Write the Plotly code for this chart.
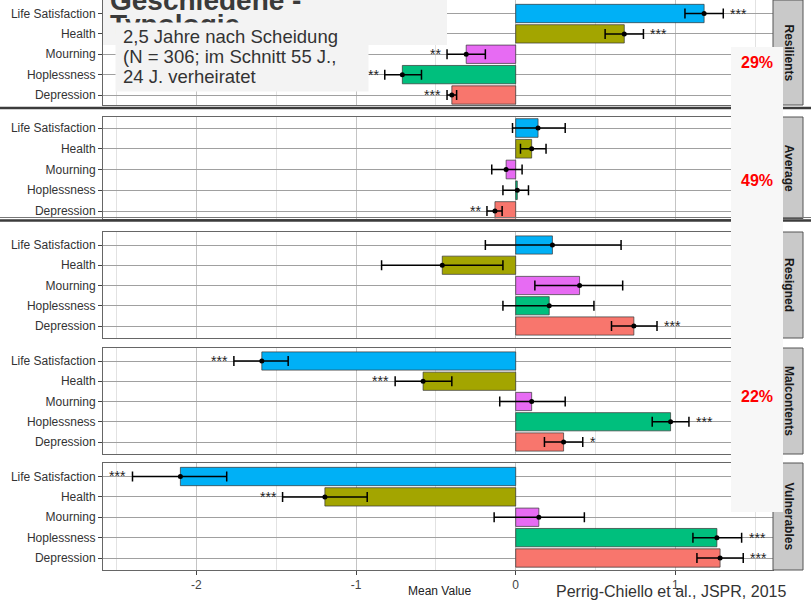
import plotly.graph_objects as go

W, H = 811, 600

# ---------------- data ----------------
categories = ["Life Satisfaction", "Health", "Mourning", "Hoplessness", "Depression"]
cat_colors = ["#00B0F6", "#A3A500", "#E76BF3", "#00BF7D", "#F8766D"]
groups = ["Resilients", "Average", "Resigned", "Malcontents", "Vulnerables"]

resilients_mean = [1.18, 0.68, -0.31, -0.71, -0.40]
resilients_lo = [1.06, 0.56, -0.43, -0.82, -0.43]
resilients_hi = [1.30, 0.80, -0.19, -0.59, -0.37]
resilients_sig = ["***", "***", "**", "**", "***"]

average_mean = [0.14, 0.10, -0.06, 0.01, -0.13]
average_lo = [-0.02, 0.03, -0.15, -0.08, -0.18]
average_hi = [0.31, 0.19, 0.04, 0.08, -0.085]
average_sig = ["", "", "", "", "**"]

resigned_mean = [0.23, -0.46, 0.40, 0.21, 0.74]
resigned_lo = [-0.19, -0.84, 0.12, -0.08, 0.60]
resigned_hi = [0.66, -0.08, 0.67, 0.49, 0.885]
resigned_sig = ["", "", "", "", "***"]

malcontents_mean = [-1.59, -0.58, 0.10, 0.97, 0.30]
malcontents_lo = [-1.765, -0.755, -0.10, 0.855, 0.18]
malcontents_hi = [-1.425, -0.40, 0.31, 1.085, 0.42]
malcontents_sig = ["***", "***", "", "***", "*"]

vulnerables_mean = [-2.10, -1.195, 0.145, 1.26, 1.28]
vulnerables_lo = [-2.40, -1.46, -0.135, 1.11, 1.135]
vulnerables_hi = [-1.81, -0.93, 0.43, 1.415, 1.425]
vulnerables_sig = ["***", "***", "", "***", "***"]

group_share = ["29%", "49%", "", "22%", ""]

x_ticks = [-2, -1, 0, 1]

title_lines = ["Geschiedene -", "Typologie"]
subtitle_lines = ["2,5 Jahre nach Scheidung", "(N = 306; im Schnitt 55 J.,", "24 J. verheiratet"]
source_text = "Perrig-Chiello et al., JSPR, 2015"
x_title = "Mean Value"

means = [resilients_mean, average_mean, resigned_mean, malcontents_mean, vulnerables_mean]
los = [resilients_lo, average_lo, resigned_lo, malcontents_lo, vulnerables_lo]
his = [resilients_hi, average_hi, resigned_hi, malcontents_hi, vulnerables_hi]
sigs = [resilients_sig, average_sig, resigned_sig, malcontents_sig, vulnerables_sig]

# ---------------- layout geometry (pixels) ----------------
def X(px):
    return px / W

def Y(py):
    return 1 - py / H

# panel: top, bottom, first-row centre, last-row centre
panels = [
    (0, 105, 13.5, 95),
    (117, 218.5, 128, 211),
    (232, 338, 245, 326),
    (348, 454, 361, 442),
    (463, 570, 476.5, 558),
]
x_left, x_right = 103, 773
zero_px, unit_px = 515.7, 159.67
x_range = [(x_left - zero_px) / unit_px, (x_right - zero_px) / unit_px]

cat_order = list(reversed(categories))  # bottom to top

fig = go.Figure()
layout = dict(
    width=W, height=H,
    margin=dict(l=0, r=0, t=0, b=0),
    paper_bgcolor="white", plot_bgcolor="white",
    showlegend=False,
    font=dict(family="Liberation Sans, Arial, sans-serif", color="#333333"),
    bargap=0.1,
)
annotations = []
shapes = []

for k, (top, bot, ls_px, dep_px) in enumerate(panels):
    idx = "" if k == 0 else str(k + 1)
    xa, ya = "x" + idx, "y" + idx
    unit = (dep_px - ls_px) / 4.0
    y_lo = 0 - (bot - dep_px) / unit
    y_hi = 4 + (ls_px - top) / unit
    last = k == len(panels) - 1

    layout["xaxis" + idx] = dict(
        domain=[X(x_left), X(x_right)], anchor=ya, range=x_range,
        tickvals=x_ticks, ticktext=[str(v) for v in x_ticks],
        showticklabels=last, ticks="outside" if last else "", ticklen=4,
        tickcolor="#444", tickfont=dict(size=12, color="#444"),
        showgrid=True, gridcolor="#c4c4c4", gridwidth=1,
        minor=dict(tickvals=[-2.5, -1.5, -0.5, 0.5, 1.5], showgrid=True,
                   gridcolor="#e2e2e2", gridwidth=1),
        zeroline=False, showline=True, mirror=True, linecolor="#666", linewidth=1,
        fixedrange=True,
    )
    layout["yaxis" + idx] = dict(
        domain=[Y(bot), Y(top)], anchor=xa, type="category",
        categoryorder="array", categoryarray=cat_order, range=[y_lo, y_hi],
        ticks="outside", ticklen=4, tickcolor="#444",
        tickfont=dict(size=12, color="#333"),
        showgrid=True, gridcolor="#a0a0a0", gridwidth=1,
        zeroline=False, showline=True, mirror=True, linecolor="#666", linewidth=1,
        fixedrange=True,
    )

    m, lo, hi = means[k], los[k], his[k]
    fig.add_trace(go.Bar(
        x=m, y=categories, orientation="h", xaxis=xa, yaxis=ya,
        marker=dict(color=cat_colors, line=dict(color="#333", width=0.7)),
        width=0.9, hoverinfo="skip",
    ))
    fig.add_trace(go.Scatter(
        x=m, y=categories, mode="markers", xaxis=xa, yaxis=ya,
        marker=dict(color="black", size=5),
        error_x=dict(type="data", symmetric=False,
                     array=[h - v for h, v in zip(hi, m)],
                     arrayminus=[v - l for v, l in zip(m, lo)],
                     color="black", thickness=1.5, width=5),
        hoverinfo="skip",
    ))
    for c, v, l, h, s in zip(categories, m, lo, hi, sigs[k]):
        if not s:
            continue
        if v >= 0:
            annotations.append(dict(x=h, y=c, xref=xa, yref=ya, text=s, showarrow=False,
                                    xanchor="left", yanchor="middle", xshift=5,
                                    font=dict(size=14, color="#222")))
        else:
            annotations.append(dict(x=l, y=c, xref=xa, yref=ya, text=s, showarrow=False,
                                    xanchor="right", yanchor="middle", xshift=-4,
                                    font=dict(size=14, color="#222")))

    # strip
    shapes.append(dict(type="rect", xref="paper", yref="paper",
                       x0=X(773), x1=X(803), y0=Y(bot), y1=Y(top),
                       fillcolor="#c9c9c9", line=dict(color="#555", width=1), layer="above"))
    annotations.append(dict(x=X(789), y=Y((top + bot) / 2), xref="paper", yref="paper",
                            xanchor="center", yanchor="middle",
                            text="<b>%s</b>" % groups[k], textangle=90, showarrow=False,
                            font=dict(size=12, color="#1a1a1a")))

# slide separator lines
shapes.append(dict(type="line", xref="paper", yref="paper", x0=0, x1=1, y0=Y(108), y1=Y(108),
                   line=dict(color="#3c3c3c", width=2.5), layer="above"))
shapes.append(dict(type="line", xref="paper", yref="paper", x0=0, x1=1, y0=Y(217.5), y1=Y(217.5),
                   line=dict(color="#777", width=1), layer="above"))
shapes.append(dict(type="line", xref="paper", yref="paper", x0=0, x1=1, y0=Y(220.5), y1=Y(220.5),
                   line=dict(color="#3c3c3c", width=2.5), layer="above"))

# percentage box
shapes.append(dict(type="rect", xref="paper", yref="paper", x0=X(731), x1=X(783), y0=Y(512), y1=Y(47),
                   fillcolor="#f7f7f7", line=dict(width=0), layer="above"))
share_y = [63, 180, None, 396, None]
for s, py in zip(group_share, share_y):
    if s:
        annotations.append(dict(x=X(757), y=Y(py), xref="paper", yref="paper", text="<b>%s</b>" % s,
                                xanchor="center", yanchor="middle",
                                showarrow=False, font=dict(size=16, color="#ff0000")))

# title box
shapes.append(dict(type="rect", xref="paper", yref="paper", x0=X(103), x1=X(447), y0=Y(45), y1=Y(0),
                   fillcolor="#f3f3f3", line=dict(width=0), layer="above"))
annotations.append(dict(x=X(108), y=Y(0), xref="paper", yref="paper", text="<b>%s</b>" % title_lines[0],
                        xanchor="left", yanchor="middle", showarrow=False,
                        font=dict(size=28, color="#3a3a3a")))
annotations.append(dict(x=X(108), y=Y(24), xref="paper", yref="paper", text="<b>%s</b>" % title_lines[1],
                        xanchor="left", yanchor="middle", showarrow=False,
                        font=dict(size=28, color="#3a3a3a")))

# subtitle box (an annotation with background so it covers the title's second line)
annotations.append(dict(x=X(115), y=Y(22), xref="paper", yref="paper", text=" ",
                        xanchor="left", yanchor="top", showarrow=False,
                        width=252, height=68, bgcolor="#f3f3f3", borderpad=0))
for i, t in enumerate(subtitle_lines):
    annotations.append(dict(x=X(121), y=Y(37 + 20 * i), xref="paper", yref="paper", text=t,
                            xanchor="left", yanchor="middle", showarrow=False,
                            font=dict(size=18.5, color="#333")))

# axis title and source
annotations.append(dict(x=X(439), y=Y(591), xref="paper", yref="paper", text=x_title,
                        xanchor="center", yanchor="middle",
                        showarrow=False, font=dict(size=12, color="#222")))
annotations.append(dict(x=X(788), y=Y(591), xref="paper", yref="paper", text=source_text,
                        xanchor="right", yanchor="middle", showarrow=False,
                        font=dict(size=16, color="#333")))

layout["shapes"] = shapes
layout["annotations"] = annotations
fig.update_layout(**layout)

fig.write_html("out.html")
